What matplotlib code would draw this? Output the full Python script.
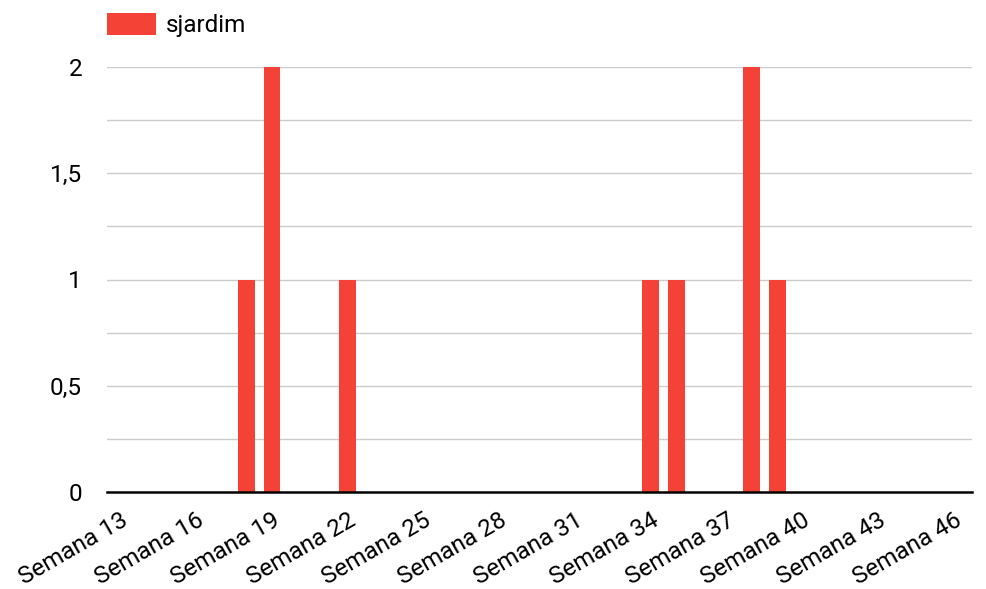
import matplotlib
matplotlib.use("Agg")
import matplotlib.pyplot as plt
import numpy as np
from matplotlib.ticker import MultipleLocator, FuncFormatter

weeks = np.arange(13, 47)
labels = ["Semana %d" % w for w in weeks]
counts_week = [18, 19, 22, 34, 35, 38, 39]
counts_val = [1, 2, 1, 1, 1, 2, 1]

values = np.zeros(len(weeks))
for w, v in zip(counts_week, counts_val):
    values[w - 13] = v

plt.rcParams['font.family'] = ['Roboto', 'DejaVu Sans']
fs = 17.5

fig = plt.figure(figsize=(9.87, 5.89), dpi=100)
ax = fig.add_axes([107 / 987, 1 - 492 / 589, (972 - 107) / 987, (492 - 67) / 589])

x = np.arange(len(weeks))
ax.bar(x, values, width=0.67, color='#f44336', zorder=3, label='sjardim')

ax.set_xlim(-0.53, 33.71)
ax.set_ylim(0, 2)
ax.yaxis.set_major_locator(MultipleLocator(0.5))
ax.yaxis.set_minor_locator(MultipleLocator(0.25))
ax.yaxis.set_major_formatter(FuncFormatter(lambda v, p: ('%g' % v).replace('.', ',')))
ax.grid(axis='y', which='both', color='#cccccc', linewidth=1, zorder=0)

ax.set_xticks(x[::3])
ax.set_xticklabels(labels[::3], rotation=30, ha='right', rotation_mode='anchor', fontsize=fs)
ax.tick_params(axis='x', length=0, pad=12)
ax.tick_params(axis='y', which='both', length=0, pad=18, labelsize=fs)

for s in ['top', 'right', 'left']:
    ax.spines[s].set_visible(False)
ax.spines['bottom'].set_linewidth(1.8)
ax.spines['bottom'].set_zorder(4)

ax.legend(loc='lower left', bbox_to_anchor=(0, 1.07), frameon=False, fontsize=fs,
          handlelength=2.0, handleheight=1.0, borderaxespad=0, borderpad=0, handletextpad=0.42)

fig.savefig('out.png', dpi=100)
